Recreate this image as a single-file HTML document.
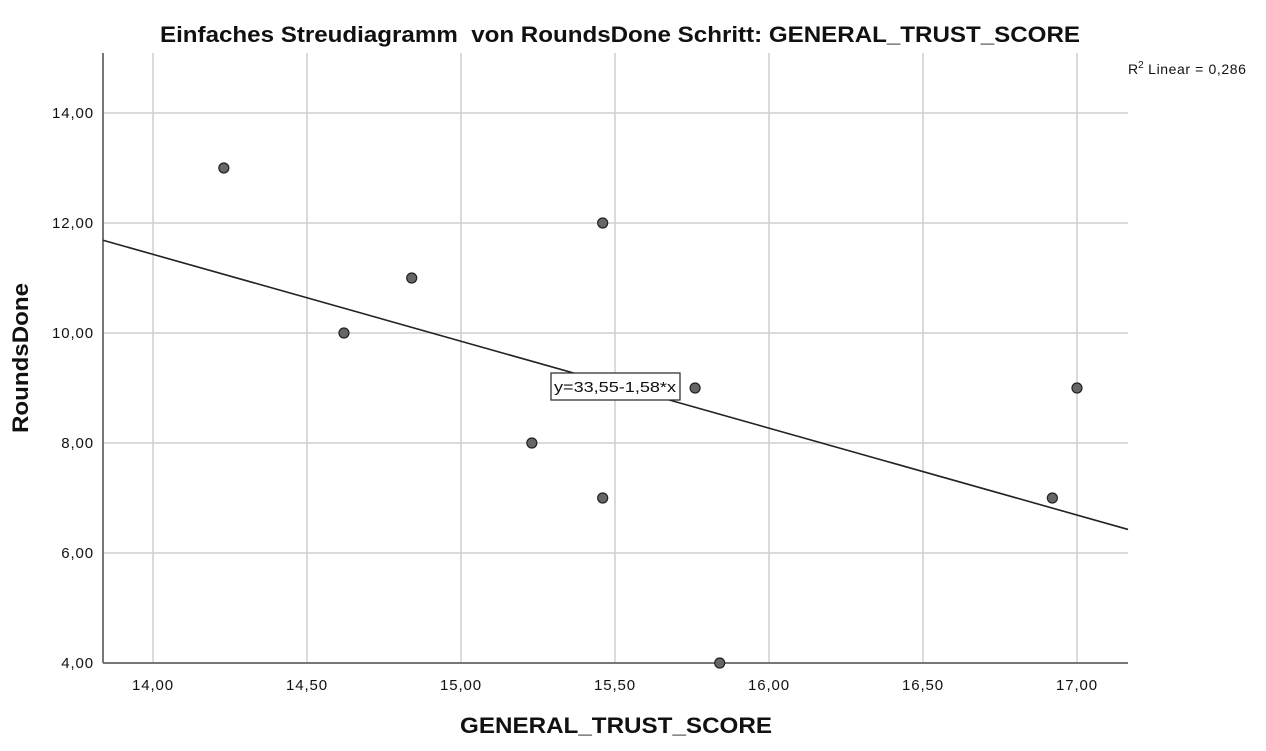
<!DOCTYPE html>
<html><head><meta charset="utf-8"><style>
body{margin:0;background:#fff;font-family:"Liberation Sans",Arial,sans-serif}
svg text{font-family:"Liberation Sans",Arial,sans-serif}
</style></head><body>
<svg id="chart" width="1266" height="746" xmlns="http://www.w3.org/2000/svg">
<rect width="1266" height="746" fill="#fff"/>
<text x="160" y="42" textLength="920" lengthAdjust="spacingAndGlyphs" font-size="22" font-weight="bold" fill="#111" xml:space="preserve">Einfaches Streudiagramm  von RoundsDone Schritt: GENERAL_TRUST_SCORE</text>
<text x="1128" y="74" font-size="14" fill="#111">R<tspan dy="-6" font-size="10">2</tspan><tspan dy="6" letter-spacing="0.6"> Linear = 0,286</tspan></text>
<g id="grid"></g>
<g id="axes"></g>
<g id="marks"></g>
<text transform="translate(28,433) rotate(-90)" textLength="150" lengthAdjust="spacingAndGlyphs" font-size="22" font-weight="bold" fill="#111">RoundsDone</text>
<text x="460" y="733" textLength="312" lengthAdjust="spacingAndGlyphs" font-size="22" font-weight="bold" fill="#111">GENERAL_TRUST_SCORE</text>
</svg>
<script>
const xTicks=[14.0,14.5,15.0,15.5,16.0,16.5,17.0];
const xTickLabels=["14,00","14,50","15,00","15,50","16,00","16,50","17,00"];
const yTicks=[4,6,8,10,12,14];
const yTickLabels=["4,00","6,00","8,00","10,00","12,00","14,00"];
const trustScores=[14.23,14.62,14.84,15.23,15.46,15.46,15.76,15.84,16.92,17.0];
const roundsDone=[13,10,11,8,12,7,9,4,7,9];
const fitIntercept=33.55;
const fitSlope=-1.58;
const L=103,R=1128,T=53,B=663;
const xs=v=>153+(v-14)*308;
const ys=v=>663-(v-4)*55;
const NS="http://www.w3.org/2000/svg";
function mk(t,a,p){const e=document.createElementNS(NS,t);for(const k in a)e.setAttribute(k,a[k]);p.appendChild(e);return e;}
const grid=document.getElementById('grid'),axes=document.getElementById('axes'),marks=document.getElementById('marks');
xTicks.forEach((v,i)=>{
 const l=mk('line',{x1:xs(v),x2:xs(v),y1:T,y2:B,stroke:'#cfcfcf','stroke-width':1.5},grid);
 
 
 const t=mk('text',{x:xs(v),y:B+27,'text-anchor':'middle','font-size':15,'letter-spacing':0.9,fill:'#111'},axes);
 t.textContent=xTickLabels[i];
 
 
});
yTicks.forEach((v,i)=>{
 const l=mk('line',{x1:L,x2:R,y1:ys(v),y2:ys(v),stroke:'#cfcfcf','stroke-width':1.5},grid);
 
 
 const t=mk('text',{x:L-9,y:ys(v)+5,'text-anchor':'end','font-size':15,'letter-spacing':0.9,fill:'#111'},axes);
 t.textContent=yTickLabels[i];
 
 
});
const ya=mk('line',{x1:L,x2:L,y1:T,y2:B,stroke:'#777','stroke-width':2},axes);


const xa=mk('line',{x1:L,x2:R,y1:B,y2:B,stroke:'#777','stroke-width':2},axes);


const x0=(L-153)/308+14,x1=(R-153)/308+14;
const fl=mk('line',{x1:L,x2:R,y1:ys(fitIntercept+fitSlope*x0),y2:ys(fitIntercept+fitSlope*x1),stroke:'#222','stroke-width':1.6},marks);


const bx=mk('rect',{x:551,y:373,width:129,height:27,fill:'#fff',stroke:'#333','stroke-width':1.3},marks);


const et=mk('text',{x:554,y:392,textLength:122,lengthAdjust:'spacingAndGlyphs','font-size':15,fill:'#111'},marks);
et.textContent='y=33,55-1,58*x';


trustScores.forEach((v,i)=>{
 const c=mk('circle',{cx:xs(v),cy:ys(roundsDone[i]),r:5,fill:'#666',stroke:'#222','stroke-width':1.2},marks);
 
 
});
</script>
</body></html>
